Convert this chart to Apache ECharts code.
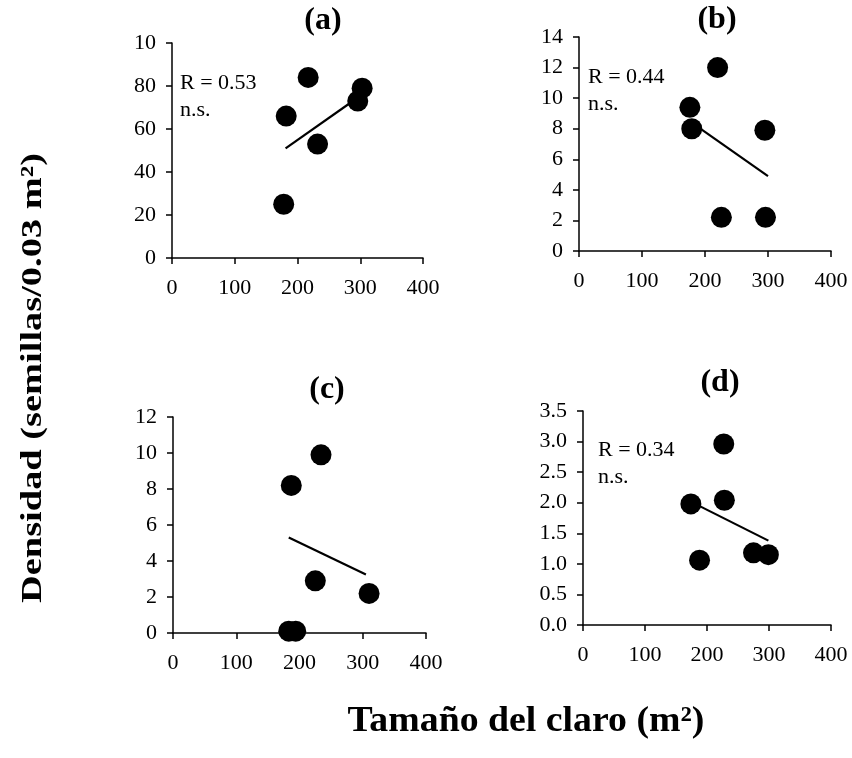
<!DOCTYPE html>
<html>
<head>
<meta charset="utf-8">
<script src="https://cdn.jsdelivr.net/npm/echarts@6/dist/echarts.min.js"></script>
<style>
html,body{margin:0;padding:0;background:#fff;}
#main{width:852px;height:758px;}
</style>
</head>
<body>
<div id="main"></div>
<script>
// datos
var xTicks = [0, 100, 200, 300, 400]

var aX = [178, 182, 217, 232, 296, 303]
var aY = [25, 66, 84, 53, 73, 79]
var aFitX = [181, 298]
var aFitY = [51, 75]

var bX = [176, 179, 220, 226, 295, 296]
var bY = [9.4, 8.0, 12.0, 2.2, 7.9, 2.2]
var bFitX = [179, 300]
var bFitY = [8.4, 4.9]

var cX = [187, 234, 225, 310, 183, 194]
var cY = [8.2, 9.9, 2.9, 2.2, 0.1, 0.1]
var cFitX = [183, 305]
var cFitY = [5.3, 3.25]

var dX = [174, 188, 227, 228, 275, 299]
var dY = [1.98, 1.06, 2.96, 2.04, 1.18, 1.15]
var dFitX = [189, 299]
var dFitY = [1.94, 1.38]

var panelNames = ['(a)', '(b)', '(c)', '(d)']
var rTexts = ['R = 0.53\nn.s.', 'R = 0.44\nn.s.', '', 'R = 0.34\nn.s.']

var font = 'Liberation Serif'

function pairs(xs, ys) {
    var out = []
    for (var i = 0; i < xs.length; i++) {
        out.push([xs[i], ys[i]])
    }
    return out
}

var grids = [
    {left: 172, top: 43, width: 251, height: 215},
    {left: 579, top: 37, width: 252, height: 214},
    {left: 173, top: 417, width: 253, height: 216},
    {left: 583, top: 411, width: 248, height: 214}
]
var yMax = [100, 14, 12, 3.5]
var yStep = [20, 2, 2, 0.5]
var pts = [pairs(aX, aY), pairs(bX, bY), pairs(cX, cY), pairs(dX, dY)]
var fits = [pairs(aFitX, aFitY), pairs(bFitX, bFitY), pairs(cFitX, cFitY), pairs(dFitX, dFitY)]

var axisLine = {show: true, onZero: false, lineStyle: {color: '#000', width: 1.5}}
var axisTick = {show: true, inside: false, length: 6, lineStyle: {color: '#000', width: 1.5}}

var xAxes = [], yAxes = [], series = []
for (var i = 0; i < 4; i++) {
    xAxes.push({
        gridIndex: i, type: 'value', min: xTicks[0], max: xTicks[xTicks.length - 1], interval: 100,
        axisLine: axisLine, axisTick: axisTick, splitLine: {show: false},
        axisLabel: {color: '#000', fontFamily: font, fontSize: 22, margin: 19}
    })
    yAxes.push({
        gridIndex: i, type: 'value', min: 0, max: yMax[i], interval: yStep[i],
        axisLine: axisLine, axisTick: axisTick, splitLine: {show: false},
        axisLabel: {
            color: '#000', fontFamily: font, fontSize: 22, margin: 16,
            formatter: (function (k) {
                return function (v) {
                    if (k == 3) return v.toFixed(1)
                    if (k == 0 && v == 100) return '10'   // asi sale en la figura
                    return v
                }
            })(i)
        }
    })
    series.push({
        type: 'scatter', xAxisIndex: i, yAxisIndex: i, data: pts[i],
        symbol: 'circle', symbolSize: 21, itemStyle: {color: '#000', opacity: 1}, silent: true
    })
    series.push({
        type: 'line', xAxisIndex: i, yAxisIndex: i, data: fits[i],
        showSymbol: false, lineStyle: {color: '#000', width: 2.2}, silent: true
    })
}

var graphic = []
var titlePos = [[323, 21], [717, 20], [327, 390], [720, 383]]
for (var j = 0; j < 4; j++) {
    graphic.push({
        type: 'text', x: titlePos[j][0], y: titlePos[j][1],
        style: {text: panelNames[j], font: 'bold 32px "Liberation Serif"', fill: '#000', align: 'center', verticalAlign: 'middle'}
    })
}
var rPos = [[180, 70], [588, 64], [0, 0], [598, 437]]
for (var k = 0; k < 4; k++) {
    if (!rTexts[k]) continue
    graphic.push({
        type: 'text', x: rPos[k][0], y: rPos[k][1],
        style: {text: rTexts[k], font: '22px "Liberation Serif"', fill: '#000', lineHeight: 27}
    })
}
// titulos de ejes (texto estirado como en el original)
graphic.push({
    type: 'text', x: 33, y: 378, rotation: Math.PI / 2, scaleX: 1.28,
    style: {text: 'Densidad (semillas/0.03 m²)', font: 'bold 30px "Liberation Serif"', fill: '#000', align: 'center', verticalAlign: 'middle'}
})
graphic.push({
    type: 'text', x: 526, y: 722, scaleX: 1.08,
    style: {text: 'Tamaño del claro (m²)', font: 'bold 35px "Liberation Serif"', fill: '#000', align: 'center', verticalAlign: 'middle'}
})

var myChart = echarts.init(document.getElementById('main'))
myChart.setOption({
    backgroundColor: '#fff',
    animation: false,
    grid: grids,
    xAxis: xAxes,
    yAxis: yAxes,
    series: series,
    graphic: graphic
})
</script>
</body>
</html>
